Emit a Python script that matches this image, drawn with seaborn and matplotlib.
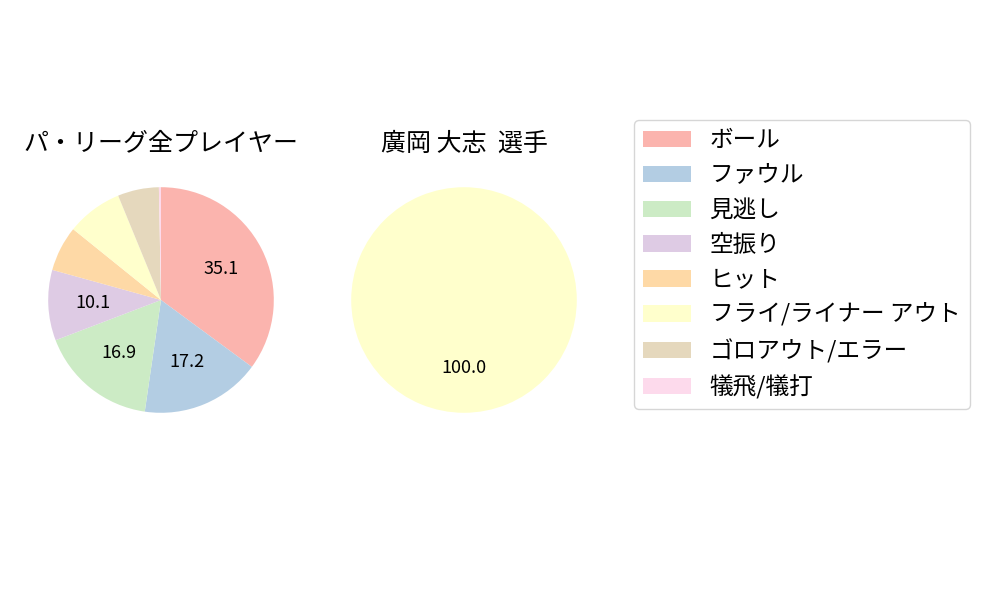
import matplotlib
matplotlib.use("Agg")
import matplotlib.pyplot as plt
import seaborn as sns

categories = ["ボール", "ファウル", "見逃し", "空振り", "ヒット",
              "フライ/ライナー アウト", "ゴロアウト/エラー", "犠飛/犠打"]
league_vals = [35.1, 17.2, 16.9, 10.1, 6.5, 8.0, 5.9, 0.3]
player_vals = [0, 0, 0, 0, 0, 100.0, 0, 0]
titles = ["パ・リーグ全プレイヤー", "廣岡 大志  選手"]

plt.rcParams['font.family'] = ['Noto Sans CJK JP', 'DejaVu Sans']

colors = sns.color_palette("Pastel1", 8)

def pct_label(p):
    return f"{p:.1f}" if p >= 10 else ""

fig = plt.figure(figsize=(10, 6), dpi=100)
ax1 = fig.add_axes([0.020, 0.265, 0.282, 0.47])
ax2 = fig.add_axes([0.323, 0.265, 0.282, 0.47])

wedges = None
for ax, vals, title in zip([ax1, ax2], [league_vals, player_vals], titles):
    w, _, autotexts = ax.pie(vals, colors=colors, startangle=90, counterclock=False,
                             autopct=pct_label, textprops={'fontsize': 13},
                             wedgeprops={'linewidth': 0})
    ax.set_aspect('equal')
    ax.set_title(title, fontsize=18)
    if wedges is None:
        wedges = w

fig.legend(wedges, categories, loc='upper left', bbox_to_anchor=(0.634, 0.8),
           borderaxespad=0, fontsize=17)

fig.savefig("out.png", dpi=100)
